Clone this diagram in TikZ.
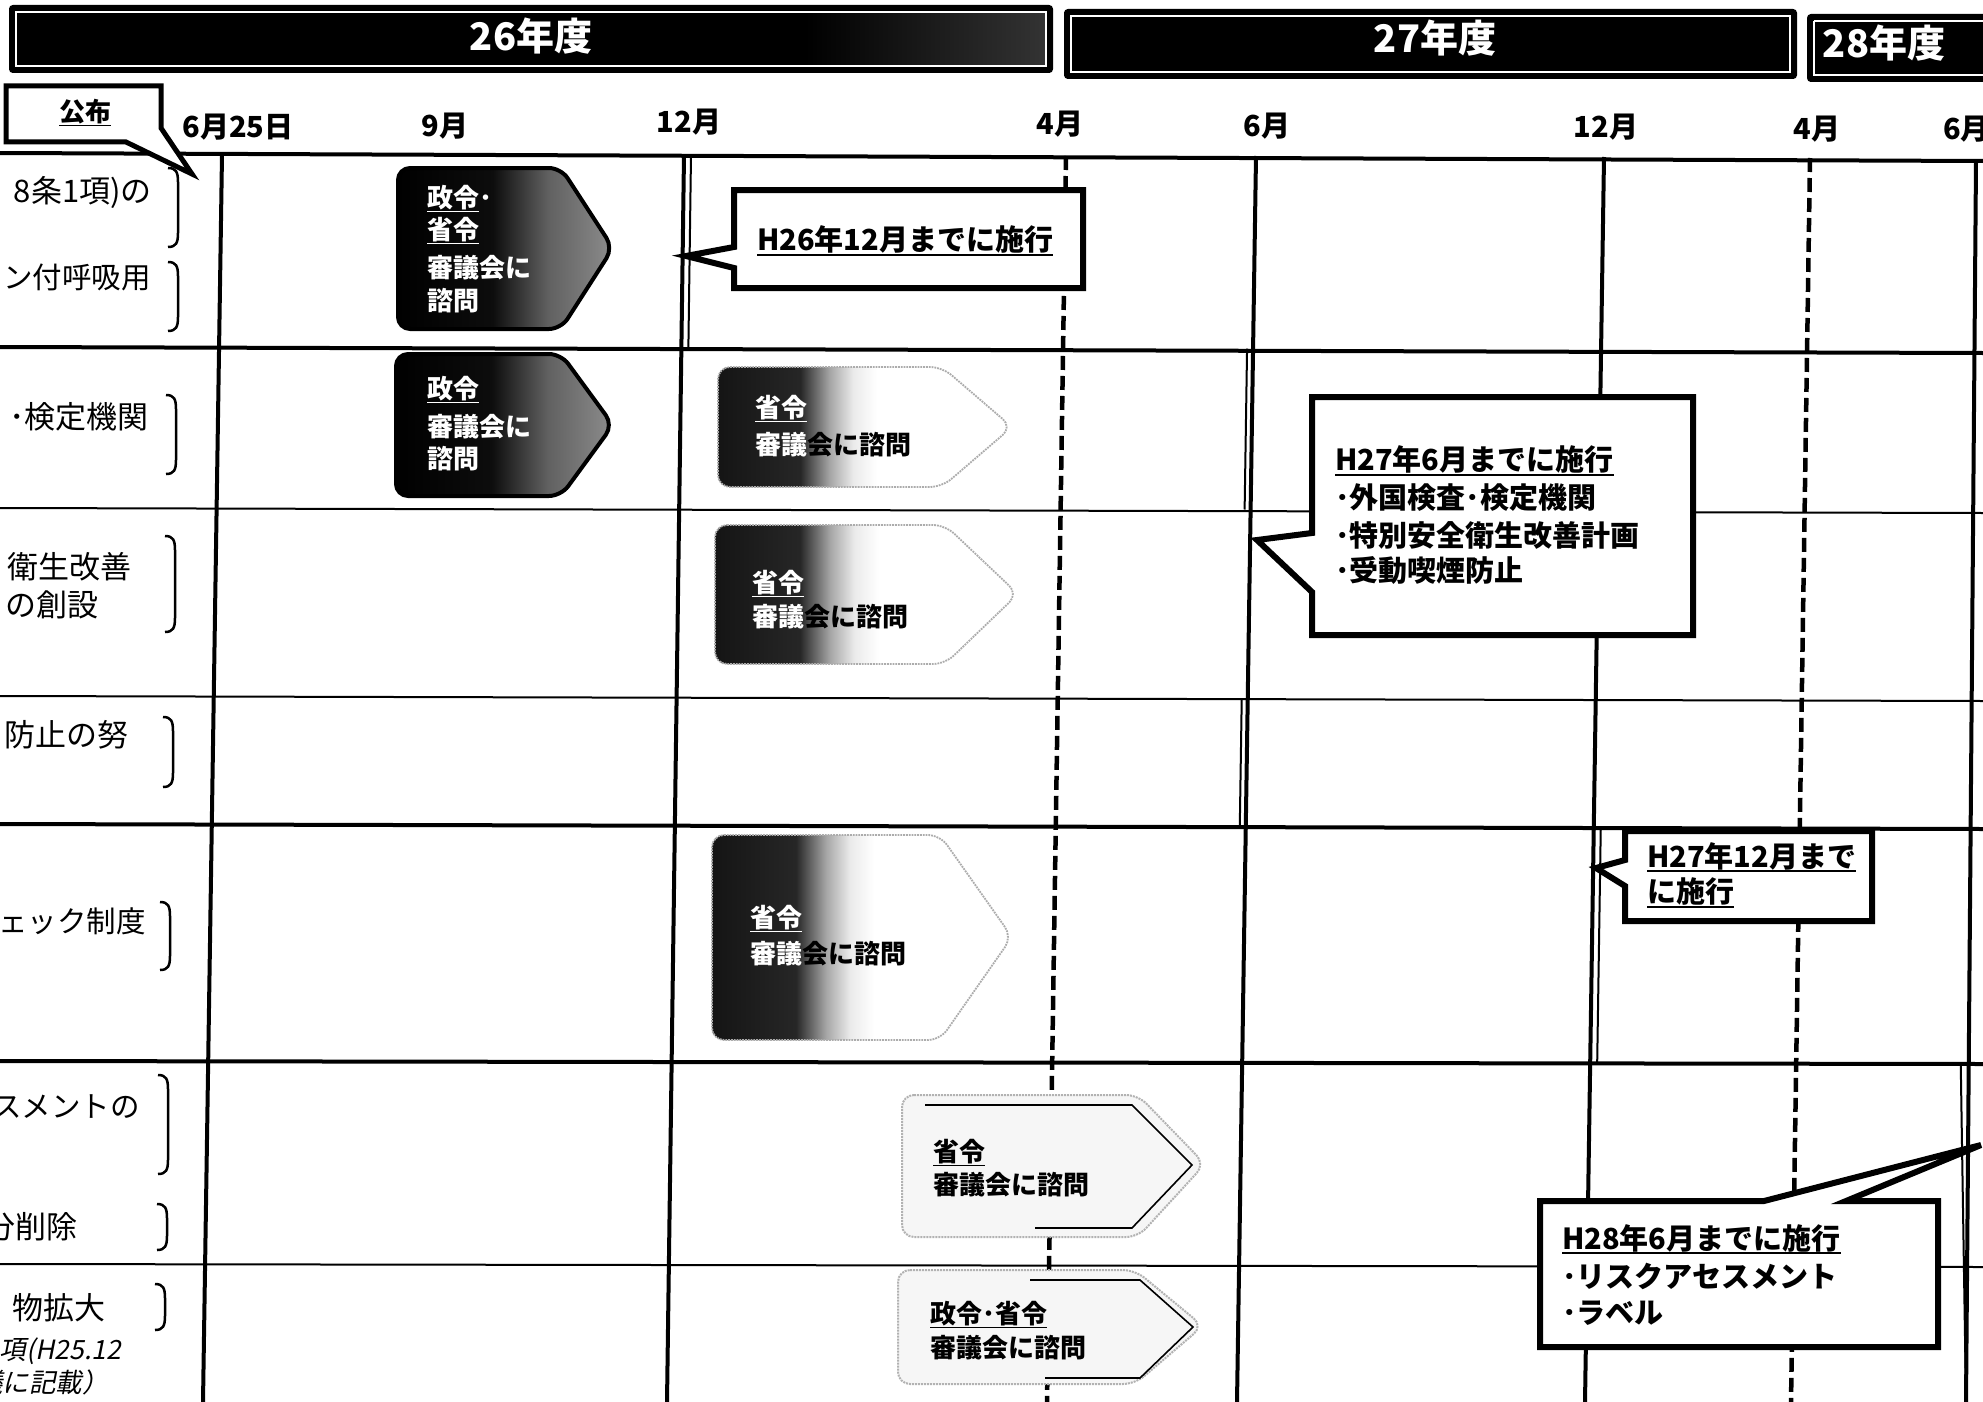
\documentclass[tikz,border=0pt]{standalone}
\usepackage{fontspec}
\setmainfont{Noto Sans CJK JP}
\newfontfamily\jpit{Noto Sans CJK JP}[FakeSlant=0.2]
\usetikzlibrary{calc}

\newcommand\myul[1]{\setbox0=\hbox{#1}\rlap{\rule[-0.17em]{\wd0}{0.07em}}\box0}
\newcommand\mybrk[3]{\draw[brk] (#1-10,#2) .. controls (#1-2,#2) and (#1,#2+4) .. (#1,#2+14) -- (#1,#3-14) .. controls (#1,#3-4) and (#1-2,#3) .. (#1-10,#3);}

\pgfdeclarehorizontalshading{darkfade}{100bp}{color(0bp)=(black); color(25bp)=(black); color(47bp)=(black!95); color(60bp)=(black!62); color(75bp)=(black!45); color(100bp)=(black!45)}
\pgfdeclarehorizontalshading{lightfade}{100bp}{color(0bp)=(black); color(25bp)=(black!92); color(39bp)=(black!85); color(44bp)=(black!35); color(48bp)=(black!8); color(52bp)=(white); color(100bp)=(white)}

\tikzset{
 gridthick/.style={line width=4pt},
 gridthin/.style={line width=2pt},
 monthdash/.style={line width=4.5pt, dash pattern=on 14pt off 6pt},
 hdr/.style={fill=black, draw=black, line width=2pt, rounded corners=3pt},
 hdrin/.style={draw=white, line width=1.5pt},
 hdrtxt/.style={text=white, font=\bfseries\fontsize{38}{38}\selectfont, inner sep=0},
 month/.style={font=\bfseries\fontsize{29}{29}\selectfont, inner sep=0},
 lab/.style={font=\fontsize{31}{31}\selectfont, inner sep=0, anchor=east},
 labs/.style={font=\fontsize{29.5}{29.5}\selectfont, inner sep=0, anchor=east},
 labit/.style={font=\jpit\fontsize{26.5}{26.5}\selectfont, inner sep=0, anchor=east},
 brk/.style={line width=2.5pt},
 darkarrow/.style={shade, shading=darkfade, draw=black, line width=4pt, rounded corners=12pt},
 fadearrow/.style={shade, shading=lightfade, draw=gray!65, line width=1.8pt, densely dotted, rounded corners=12pt},
 lightarrow/.style={fill=gray!7, draw=gray!60, line width=2pt, densely dotted, rounded corners=12pt},
 innerline/.style={draw=black, line width=1.6pt},
 arrtxt/.style={font=\bfseries\fontsize{26}{26}\selectfont, inner sep=0, anchor=west},
 callout/.style={fill=white, draw=black, line width=6pt, line join=miter},
 ctxt/.style={font=\bfseries\fontsize{29}{29}\selectfont, inner sep=0, anchor=west},
}

\begin{document}
\begin{tikzpicture}[x=1pt,y=-1pt]
\useasboundingbox (0,0) rectangle (1983,1402);
\fill[white] (0,0) rectangle (1983,1402);

% header bars
\draw[hdr] (10,6) rectangle (1052,72);
\shade[left color=black, middle color=gray!55, right color=black!80] (805,12) rectangle (1046,66);
\draw[hdrin] (16,12) rectangle (1046,66);
\node[hdrtxt] (y26) at (531,36) {26年度};
\draw[hdr] (1065,10) rectangle (1796,78);
\draw[hdrin] (1071,16) rectangle (1790,72);
\node[hdrtxt] (y27) at (1435,38) {27年度};
\draw[hdr] (1808,15) rectangle (2000,81);
\draw[hdrin] (1814,21) -- (2000,21) (1814,21) -- (1814,75) -- (2000,75);
\node[hdrtxt] (y28) at (1884,43) {28年度};

% horizontal grid lines
\draw[gridthick] (0,153) -- (1983,161);
\draw[gridthick] (0,347) -- (1983,353);
\draw[gridthin] (0,508) -- (1983,513);
\draw[gridthin] (0,696) -- (1983,701);
\draw[gridthick] (0,824) -- (1983,829);
\draw[gridthick] (0,1061) -- (1983,1064);
\draw[gridthin] (0,1264) -- (1983,1267);

% vertical lines
\coordinate (At) at (222,155); \coordinate (Ab) at (203,1402);
\coordinate (Bt) at (684,155); \coordinate (Bb) at (667,1402);
\coordinate (Ct) at (1066,156); \coordinate (Cb) at (1047,1402);
\coordinate (Dt) at (1256,156); \coordinate (Db) at (1237,1402);
\coordinate (Et) at (1604,157); \coordinate (Eb) at (1585,1402);
\coordinate (Ft) at (1810,158); \coordinate (Fb) at (1791,1402);
\coordinate (Gt) at (1976,160); \coordinate (Gb) at (1966,1402);
\draw[gridthick] (At) -- (Ab);
\draw[gridthick] (Bt) -- (Bb);
\draw[monthdash] (Ct) -- (Cb);
\draw[gridthick] (Dt) -- (Db);
\draw[gridthick] (Et) -- (Eb);
\draw[monthdash] (Ft) -- (Fb);
\draw[gridthick] (Gt) -- (Gb);
% double lines
\draw[gridthin] ($(Bt)+(7,0)$) -- ($(Bt)!0.1546!(Bb)+(7,0)$);
\draw[gridthin] ($(Dt)!0.1546!(Db)+(-6,0)$) -- ($(Dt)!0.2837!(Db)+(-6,0)$);
\draw[gridthin] ($(Dt)!0.4351!(Db)+(-6,0)$) -- ($(Dt)!0.5377!(Db)+(-6,0)$);
\draw[gridthin] ($(Et)!0.5377!(Eb)+(7,0)$) -- ($(Et)!0.7276!(Eb)+(7,0)$);
\draw[gridthin] ($(Gt)!0.7276!(Gb)+(-8,0)$) -- (Gb);

% month labels
\node[month] (m1) at (238,127) {6月25日};
\node[month] (m2) at (445,126) {9月};
\node[month] (m3) at (689,122) {12月};
\node[month] (m4) at (1060,124) {4月};
\node[month] (m5) at (1267,126) {6月};
\node[month] (m6) at (1606,127) {12月};
\node[month] (m7) at (1817,129) {4月};
\node[month,anchor=west] (m8) at (1943,129) {6月};

% left labels
\node[lab] (l1) at (152,192) {8条1項)の};
\node[labs] (l2) at (151,277) {ン付呼吸用};
\node[lab] (l3) at (149,417) {･検定機関};
\node[lab] (l4) at (132,567) {衛生改善};
\node[lab] (l5) at (99,605) {の創設};
\node[lab] (l6) at (129,735) {防止の努};
\node[labs] (l7) at (146,921) {ェック制度};
\node[labs] (l8) at (140,1107) {スメントの};
\node[lab] (l9) at (78,1227) {分削除};
\node[lab] (l10) at (106,1308) {物拡大};
\node[labit] (l11) at (121,1351) {項(H25.12};
\node[labit] (l12) at (109,1382) {議に記載）};

% brackets
\mybrk{178}{168}{247}
\mybrk{178}{262}{331}
\mybrk{176}{395}{474}
\mybrk{175}{536}{632}
\mybrk{173}{717}{787}
\mybrk{170}{902}{970}
\mybrk{168}{1075}{1174}
\mybrk{167}{1204}{1250}
\mybrk{165}{1284}{1330}

% arrows
\path[darkarrow] (398,168) -- (561,168) -- (613,248) -- (561,329) -- (398,329) -- cycle;
\node[arrtxt,text=white] (p1a) at (427,199) {\myul{政令}･};
\node[arrtxt,text=white] (p1b) at (427,231) {\myul{省令}};
\node[arrtxt,text=white] (p1c) at (427,268) {審議会に};
\node[arrtxt,text=white] (p1d) at (427,301) {諮問};

\path[darkarrow] (396,354) -- (561,354) -- (613,425) -- (561,496) -- (396,496) -- cycle;
\node[arrtxt,text=white] (p2a) at (427,390) {\myul{政令}};
\node[arrtxt,text=white] (p2b) at (427,427) {審議会に};
\node[arrtxt,text=white] (p2c) at (427,459) {諮問};

\path[fadearrow] (718,367) -- (942,367) -- (1012,427) -- (942,487) -- (718,487) -- cycle;
\node[arrtxt,text=white] (p3a) at (755,409) {\myul{省令}};
\node[arrtxt] (p3b) at (755,445) {\textcolor{white}{審議}会に諮問};

\path[fadearrow] (715,525) -- (945,525) -- (1018,594) -- (945,664) -- (715,664) -- cycle;
\node[arrtxt,text=white] (p4a) at (752,584) {\myul{省令}};
\node[arrtxt] (p4b) at (752,617) {\textcolor{white}{審議}会に諮問};

\path[fadearrow] (712,835) -- (940,835) -- (1012,937) -- (940,1040) -- (712,1040) -- cycle;
\node[arrtxt,text=white] (p5a) at (750,919) {\myul{省令}};
\node[arrtxt] (p5b) at (750,954) {\textcolor{white}{審議}会に諮問};

\path[lightarrow] (902,1095) -- (1138,1095) -- (1205,1164) -- (1138,1237) -- (902,1237) -- cycle;
\draw[innerline] (925,1105) -- (1132,1105) -- (1192,1165) -- (1132,1228) -- (1035,1228);
\node[arrtxt] (p6a) at (933,1153) {\myul{省令}};
\node[arrtxt] (p6b) at (933,1185) {審議会に諮問};

\path[lightarrow] (898,1270) -- (1135,1270) -- (1203,1326) -- (1135,1384) -- (898,1384) -- cycle;
\draw[innerline] (1030,1280) -- (1140,1280) -- (1193,1327) -- (1140,1378) -- (1045,1378);
\node[arrtxt] (p7a) at (930,1315) {\myul{政令･省令}};
\node[arrtxt] (p7b) at (930,1348) {審議会に諮問};

% callouts
\draw[callout,line width=5pt] (6,86) -- (161,86) -- (161,128) -- (192,174) -- (126,142) -- (6,142) -- cycle;
\node[ctxt,anchor=center,font=\bfseries\fontsize{26}{26}\selectfont] (kofu) at (85,113) {\myul{公布}};

\draw[callout] (734,190) -- (1083,190) -- (1083,288) -- (734,288) -- (734,268) -- (686,256) -- (734,247) -- cycle;
\node[ctxt] (c1) at (757,241) {\myul{H26年12月までに施行}};

\draw[callout] (1312,397) -- (1693,397) -- (1693,635) -- (1312,635) -- (1312,592) -- (1257,540) -- (1312,533) -- cycle;
\node[ctxt] (c2a) at (1335,461) {\myul{H27年6月までに施行}};
\node[ctxt] (c2b) at (1335,498) {･外国検査･検定機関};
\node[ctxt] (c2c) at (1335,535) {･特別安全衛生改善計画};
\node[ctxt] (c2d) at (1335,571) {･受動喫煙防止};

\draw[callout] (1625,831) -- (1872,831) -- (1872,921) -- (1625,921) -- (1625,886) -- (1596,868) -- (1625,860) -- cycle;
\node[ctxt] (c3a) at (1647,857) {\myul{H27年12月まで}};
\node[ctxt] (c3b) at (1647,893) {\myul{に施行}};

\draw[callout] (1540,1201) -- (1764,1201) -- (1981,1145) -- (1846,1201) -- (1938,1201) -- (1938,1347) -- (1540,1347) -- cycle;
\node[ctxt] (c4a) at (1562,1239) {\myul{H28年6月までに施行}};
\node[ctxt] (c4b) at (1562,1276) {･リスクアセスメント};
\node[ctxt] (c4c) at (1562,1313) {･ラベル};
\end{tikzpicture}
\end{document}
